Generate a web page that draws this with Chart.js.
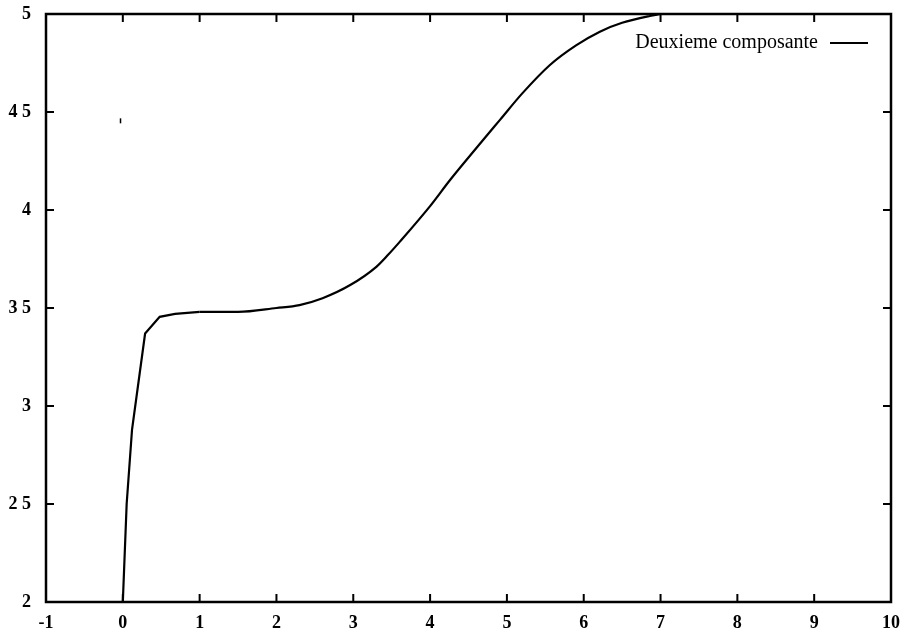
<!DOCTYPE html>
<html>
<head>
<meta charset="utf-8">
<script src="https://cdn.jsdelivr.net/npm/chart.js@4"></script>
<style>
  html, body { margin: 0; padding: 0; background: #fff; }
  #wrap { width: 912px; height: 635px; }
</style>
</head>
<body>
<div id="wrap"><canvas id="c" width="912" height="635"></canvas></div>
<script>
// valeurs
const seriesLabel = 'Deuxieme composante';
const xValues = [0, 0.05, 0.12, 0.29, 0.48, 0.68, 1.0, 1.5, 2.0, 2.3, 2.6, 2.96, 3.3, 3.45, 3.61, 4.0, 4.26, 4.6, 4.91, 5.2, 5.56, 5.9, 6.21, 6.5, 6.86, 7.0];
const yValues = [2.0, 2.5, 2.88, 3.37, 3.455, 3.47, 3.48, 3.48, 3.50, 3.515, 3.55, 3.617, 3.71, 3.77, 3.84, 4.02, 4.153, 4.315, 4.46, 4.595, 4.74, 4.84, 4.91, 4.955, 4.99, 5.0];
const strayX = [-0.03];
const strayY = [4.455];
const xTicks = [-1, 0, 1, 2, 3, 4, 5, 6, 7, 8, 9, 10];
const yTicks = [2, 2.5, 3, 3.5, 4, 4.5, 5];
const yTickLabels = ['2', '2 5', '3', '3 5', '4', '4 5', '5'];

// la montée initiale est faite de segments droits, le reste est lisse
const splitAt = 6;

const tickFont = { family: 'Liberation Serif', size: 18, weight: 'bold' };

// petites graduations vers l'intérieur, sur les quatre côtés (style gnuplot)
const innerTicks = {
  id: 'innerTicks',
  afterDraw(chart) {
    const { ctx, chartArea: a, scales: { x, y } } = chart;
    ctx.save();
    ctx.strokeStyle = '#000';
    ctx.lineWidth = 2;
    ctx.beginPath();
    xTicks.forEach(v => {
      const px = x.getPixelForValue(v);
      ctx.moveTo(px, a.bottom); ctx.lineTo(px, a.bottom - 8);
      ctx.moveTo(px, a.top); ctx.lineTo(px, a.top + 8);
    });
    yTicks.forEach(v => {
      const py = y.getPixelForValue(v);
      ctx.moveTo(a.left, py); ctx.lineTo(a.left + 8, py);
      ctx.moveTo(a.right, py); ctx.lineTo(a.right - 8, py);
    });
    ctx.stroke();
    ctx.lineWidth = 2.5;
    ctx.strokeRect(a.left, a.top, a.right - a.left, a.bottom - a.top);

    // légende : texte puis trait
    ctx.fillStyle = '#000';
    ctx.font = '20px "Liberation Serif"';
    ctx.textAlign = 'right';
    ctx.textBaseline = 'middle';
    const ly = a.top + 29;
    ctx.fillText(seriesLabel, a.right - 73, ly);
    ctx.lineWidth = 2;
    ctx.beginPath();
    ctx.moveTo(a.right - 61, ly);
    ctx.lineTo(a.right - 23, ly);
    ctx.stroke();
    ctx.restore();
  }
};

const pts = xValues.map((v, i) => ({ x: v, y: yValues[i] }));

new Chart(document.getElementById('c'), {
  type: 'scatter',
  data: {
    datasets: [{
      label: seriesLabel,
      data: pts.slice(0, splitAt + 1),
      showLine: true,
      borderColor: '#000',
      borderWidth: 2.2,
      pointRadius: 0,
      tension: 0,
      fill: false
    }, {
      label: seriesLabel,
      data: pts.slice(splitAt),
      showLine: true,
      borderColor: '#000',
      borderWidth: 2.2,
      pointRadius: 0,
      cubicInterpolationMode: 'monotone',
      fill: false
    }, {
      label: 'stray',
      data: strayX.map((v, i) => ({ x: v, y: strayY[i] })),
      pointStyle: 'line',
      rotation: 90,
      pointRadius: 2.5,
      borderColor: '#000',
      borderWidth: 1.5
    }]
  },
  options: {
    responsive: false,
    animation: false,
    layout: { padding: { left: 0, top: 14, right: 21, bottom: 0 } },
    plugins: { legend: { display: false }, tooltip: { enabled: false } },
    scales: {
      x: {
        type: 'linear',
        min: -1, max: 10,
        afterBuildTicks: s => { s.ticks = xTicks.map(v => ({ value: v })); },
        afterFit: s => { s.height = 33; s.paddingLeft = 0; s.paddingRight = 0; },
        grid: { display: false, drawTicks: false },
        border: { display: false },
        ticks: { color: '#000', font: tickFont, padding: 11, maxRotation: 0, autoSkip: false }
      },
      y: {
        type: 'linear',
        min: 2, max: 5,
        afterBuildTicks: s => { s.ticks = yTicks.map(v => ({ value: v })); },
        afterFit: s => { s.width = 46; s.paddingTop = 0; s.paddingBottom = 0; },
        grid: { display: false, drawTicks: false },
        border: { display: false },
        ticks: {
          color: '#000', font: tickFont, padding: 15, autoSkip: false,
          callback: v => yTickLabels[yTicks.indexOf(v)]
        }
      }
    }
  },
  plugins: [innerTicks]
});
</script>
</body>
</html>
